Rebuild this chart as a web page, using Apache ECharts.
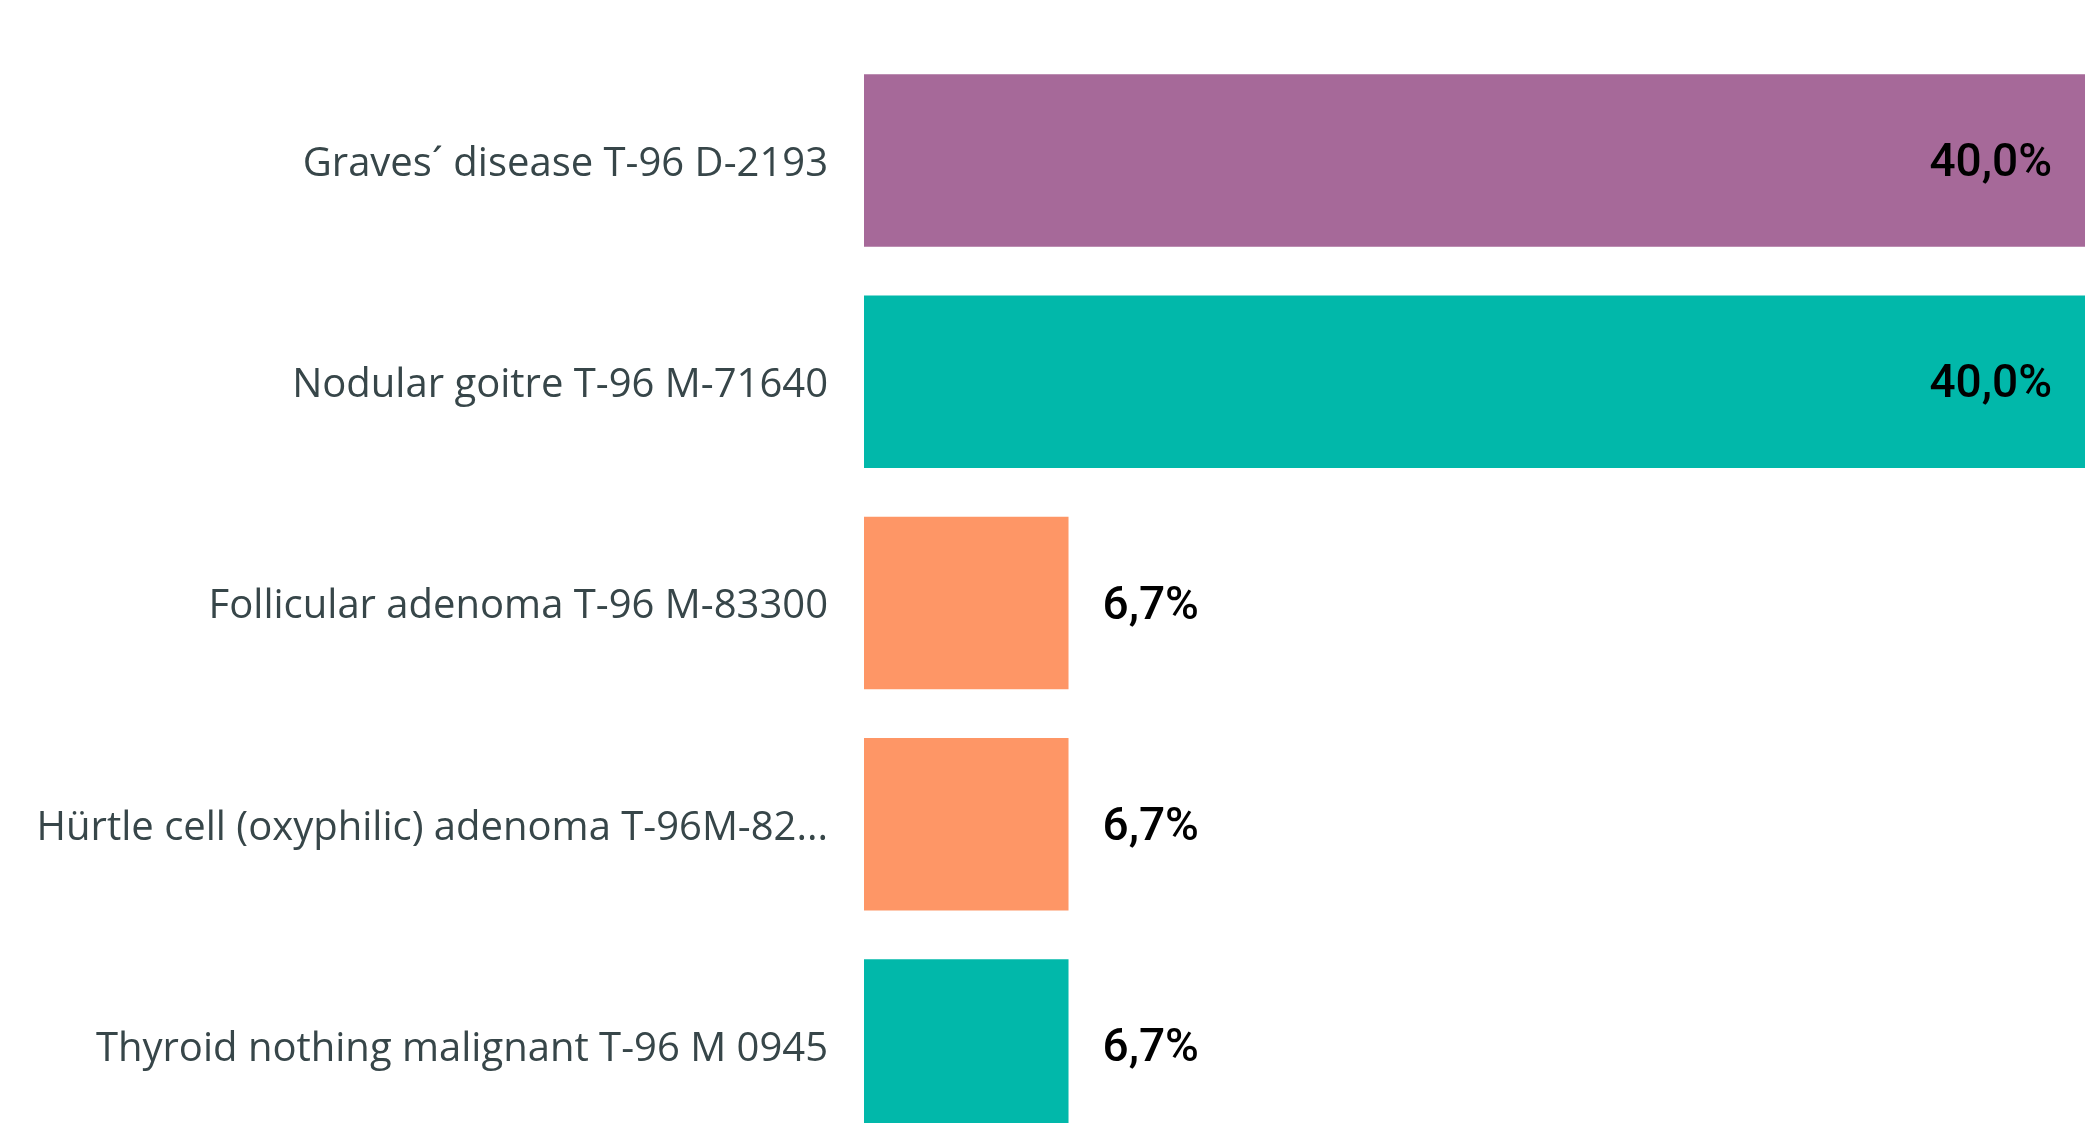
<!DOCTYPE html>
<html>
<head>
<meta charset="utf-8">
<title>Thyroid diagnoses</title>
<script src="https://cdn.jsdelivr.net/npm/echarts@6/dist/echarts.min.js"></script>
<style>
  html, body { margin: 0; padding: 0; background: #fff; overflow: hidden; }
  /* taller than the window: the last bar is cut by the bottom edge, like in the original */
  #chart { width: 2085px; height: 1156px; }
</style>
</head>
<body>
<div id="chart"></div>
<script>
// categories top to bottom, share of cases in %
const diagnoses = [
  'Graves´ disease T-96 D-2193',
  'Nodular goitre T-96 M-71640',
  'Follicular adenoma T-96 M-83300',
  'Hürtle cell (oxyphilic) adenoma T-96M-82...',
  'Thyroid nothing malignant T-96 M 0945'
];
const shares = [40.0, 40.0, 6.7, 6.7, 6.7];
const barColors = ['#A66999', '#01B8AA', '#FE9666', '#FE9666', '#01B8AA'];

const fmt = v => v.toFixed(1).replace('.', ',') + '%';

const chart = echarts.init(document.getElementById('chart'));

const option = {
  animation: false,
  backgroundColor: '#ffffff',
  grid: { left: 864, right: 0, top: 50, bottom: 0, containLabel: false },
  xAxis: {
    type: 'value',
    min: 0,
    max: 40,
    show: false
  },
  yAxis: {
    type: 'category',
    inverse: true,
    data: diagnoses,
    axisLine: { show: false },
    axisTick: { show: false },
    axisLabel: {
      margin: 36,
      formatter: v => '{t|' + v + '}',
      rich: {
        t: {
          color: '#374649',
          fontFamily: '"Open Sans", "Noto Sans", sans-serif',
          fontSize: 40,
          padding: [8, 0, 0, 0]
        }
      }
    }
  },
  series: [{
    type: 'bar',
    barCategoryGap: '22%',
    data: shares.map((v, i) => ({
      value: v,
      itemStyle: { color: barColors[i] },
      label: v > 20
        ? { position: 'insideRight', distance: 33 }
        : { position: 'right', distance: 34 }
    })),
    label: {
      show: true,
      formatter: p => '{n|' + fmt(p.value) + '}',
      rich: {
        n: {
          color: '#000000',
          fontFamily: 'Roboto, sans-serif',
          fontWeight: 500,
          fontSize: 46,
          padding: [8, 0, 0, 0]
        }
      }
    }
  }]
};

chart.setOption(option);
window.addEventListener('resize', () => chart.resize());
</script>
</body>
</html>
